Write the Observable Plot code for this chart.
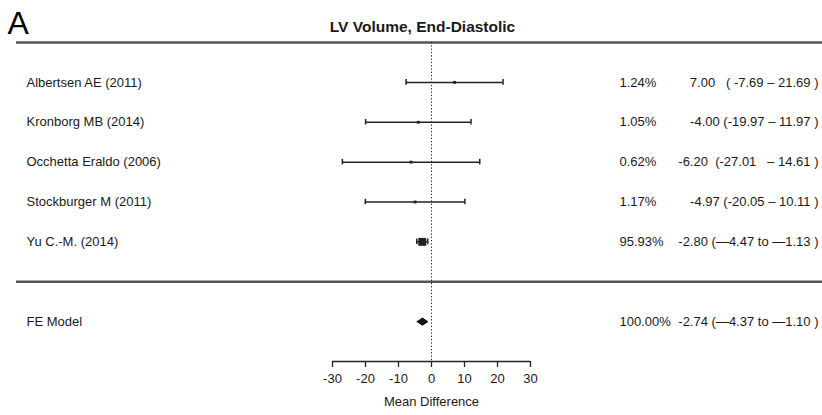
<!DOCTYPE html>
<html>
<head>
<meta charset="utf-8">
<script src="https://cdn.jsdelivr.net/npm/d3@7"></script>
<script src="https://cdn.jsdelivr.net/npm/@observablehq/plot@0.6"></script>
<style>
  body { margin: 0; background: #fff; }
  svg text { white-space: pre; }
</style>
</head>
<body>
<div id="chart"></div>
<script>
const panelLetter = "A";
const title = "LV Volume, End-Diastolic";
const studies = ["Albertsen AE (2011)", "Kronborg MB (2014)", "Occhetta Eraldo (2006)", "Stockburger M (2011)", "Yu C.-M. (2014)"];
const estimates = [7.00, -4.00, -6.20, -4.97, -2.80];
const lowers = [-7.69, -19.97, -27.01, -20.05, -4.47];
const uppers = [21.69, 11.97, 14.61, 10.11, -1.13];
const weights = [1.24, 1.05, 0.62, 1.17, 95.93];
const weightLabels = ["1.24%", "1.05%", "0.62%", "1.17%", "95.93%"];
const ciLabels = ["7.00   ( -7.69 – 21.69 )", "-4.00 (-19.97 – 11.97 )", "-6.20  (-27.01   – 14.61 )", "-4.97 (-20.05 – 10.11 )", "-2.80 (—4.47 to —1.13 )"];
const rows = [1, 2, 3, 4, 5];

const modelLabel = "FE Model";
const modelRow = 7;
const modelEst = -2.74, modelLower = -4.37, modelUpper = -1.10;
const modelWeightLabel = "100.00%";
const modelCiLabel = "-2.74 (—4.37 to —1.10 )";

const xTicks = [-30, -20, -10, 0, 10, 20, 30];
const xLabel = "Mean Difference";
const separators = [0, 6];
const axisRow = 8;

const studyData = studies.map((s, i) => ({
  study: s, row: rows[i], est: estimates[i], lo: lowers[i], hi: uppers[i],
  w: weights[i], wl: weightLabels[i], ci: ciLabels[i]
}));
const summaryData = [{study: modelLabel, row: modelRow, est: modelEst, lo: modelLower, hi: modelUpper, wl: modelWeightLabel, ci: modelCiLabel}];
const labelData = studyData.concat(summaryData);
const dh = 0.09; // diamond half-height in rows
const diamond = [
  {x: modelLower, y: modelRow}, {x: modelEst, y: modelRow - dh},
  {x: modelUpper, y: modelRow}, {x: modelEst, y: modelRow + dh},
  {x: modelLower, y: modelRow}
];
const capH = 0.07;

const ink = "#1a1a1a";
const chart = Plot.plot({
  width: 822,
  height: 415,
  marginTop: 42,
  marginBottom: 54,
  marginLeft: 0,
  marginRight: 0,
  style: {fontFamily: "'Liberation Sans', Arial, sans-serif", fontSize: "13px", color: ink, background: "#fff"},
  x: {domain: [-30, 30], range: [332, 530]},
  y: {domain: [0, 8], reverse: true, axis: null},
  r: {type: "linear", domain: [0, 100], range: [1.6, 4.6]},
  marks: [
    Plot.ruleY(separators, {stroke: "#555", strokeWidth: 2.4, insetLeft: 16}),
    Plot.ruleX([0], {y1: 0, y2: axisRow, stroke: "#222", strokeWidth: 1, strokeDasharray: "1.3,2"}),
    Plot.ruleY(studyData, {y: "row", x1: "lo", x2: "hi", stroke: "#222", strokeWidth: 1.5}),
    Plot.ruleX(studyData, {x: "lo", y1: d => d.row - capH, y2: d => d.row + capH, stroke: "#222", strokeWidth: 1.5}),
    Plot.ruleX(studyData, {x: "hi", y1: d => d.row - capH, y2: d => d.row + capH, stroke: "#222", strokeWidth: 1.5}),
    Plot.dot(studyData, {x: "est", y: "row", r: "w", symbol: "square", fill: "#222", stroke: null}),
    Plot.line(diamond, {x: "x", y: "y", fill: "#111", stroke: "#111", strokeWidth: 1}),
    Plot.text(labelData, {y: "row", text: "study", frameAnchor: "left", dx: 26, textAnchor: "start", fill: ink}),
    Plot.text(labelData, {y: "row", text: "wl", frameAnchor: "left", dx: 619, textAnchor: "start", fill: ink}),
    Plot.text(labelData, {y: "row", text: "ci", frameAnchor: "right", dx: -4, textAnchor: "end", fill: ink}),
    Plot.ruleY([axisRow], {x1: -30, x2: 30, stroke: "#222", strokeWidth: 1.3}),
    Plot.axisX({ticks: xTicks, tickFormat: d => String(d), anchor: "bottom", tickSize: 6, tickPadding: 6, fontSize: 13, label: null, stroke: "#222", strokeWidth: 1.3, fill: ink}),
    Plot.text([xLabel], {x: 0, frameAnchor: "bottom", dy: 44, fontSize: 13, fill: ink}),
    Plot.text([title], {frameAnchor: "top", dx: 11, dy: -22, fontSize: 15.5, fontWeight: "bold", fill: ink}),
    Plot.text([panelLetter], {frameAnchor: "top-left", dx: 7, dy: -31, fontSize: 32, textAnchor: "start", fontFamily: "'Liberation Sans Narrow', 'Liberation Sans', sans-serif", fill: "#000"})
  ]
});
document.getElementById("chart").appendChild(chart);
</script>
</body>
</html>
